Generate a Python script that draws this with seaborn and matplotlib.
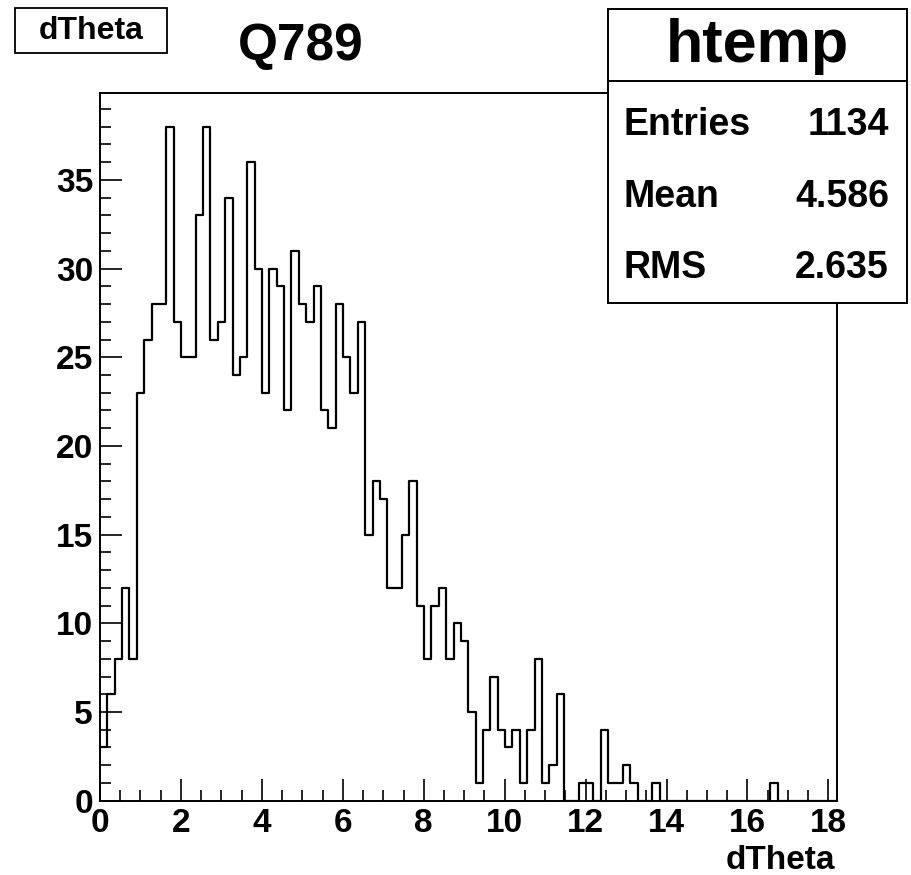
import numpy as np
import pandas as pd
import matplotlib
matplotlib.use("Agg")
import matplotlib.pyplot as plt
from matplotlib.patches import Rectangle
from matplotlib.lines import Line2D
import seaborn as sns

# ---------------- data ----------------
x_min = 0.0
x_max = 18.2
n_bins = 100
counts = [3, 6, 8, 12, 8, 23, 26, 28, 28, 38,
          27, 25, 25, 33, 38, 26, 27, 34, 24, 25,
          36, 30, 23, 30, 29, 22, 31, 28, 27, 29,
          22, 21, 28, 25, 23, 27, 15, 18, 17, 12,
          12, 15, 18, 11, 8, 11, 12, 8, 10, 9,
          5, 1, 4, 7, 4, 3, 4, 1, 4, 8,
          1, 2, 6, 0, 0, 1, 1, 0, 4, 1,
          1, 2, 1, 0, 0, 1, 0, 0, 0, 0,
          0, 0, 0, 0, 0, 0, 0, 0, 0, 0,
          0, 1, 0, 0, 0, 0, 0, 0, 0, 0]
x_ticks = [0, 2, 4, 6, 8, 10, 12, 14, 16, 18]
y_ticks = [0, 5, 10, 15, 20, 25, 30, 35]
stat_names = ["Entries", "Mean", "RMS"]
stat_values = ["1134", "4.586", "2.635"]
hist_name = "htemp"
var_name = "dTheta"
title = "Q789"

# ---------------- style ----------------
sns.set_style("ticks")
plt.rcParams["font.family"] = ["Liberation Sans", "DejaVu Sans"]
plt.rcParams["font.weight"] = "bold"
plt.rcParams["text.color"] = "black"
plt.rcParams["axes.labelcolor"] = "black"
plt.rcParams["xtick.color"] = "black"
plt.rcParams["ytick.color"] = "black"
plt.rcParams["axes.edgecolor"] = "black"

W, H = 911, 875
fig = plt.figure(figsize=(W / 100, H / 100), dpi=100)
fig.patch.set_facecolor("white")

def fx(px):
    return px / W

def fy(py):
    return 1 - py / H

ax_left, ax_right, ax_top, ax_bottom = 100, 836.5, 93, 800.7
ax = fig.add_axes([fx(ax_left), fy(ax_bottom), (ax_right - ax_left) / W, (ax_bottom - ax_top) / H])

edges = np.linspace(x_min, x_max, n_bins + 1)
centers = 0.5 * (edges[:-1] + edges[1:])
df = pd.DataFrame({"dTheta": centers, "count": counts})

sns.histplot(data=df, x="dTheta", weights="count", bins=n_bins,
             binrange=(x_min, x_max), element="step",
             fill=False, color="black", linewidth=1.6, ax=ax)

ax.set_xlim(x_min, x_max)
ax.set_ylim(0, 1.05 * max(counts))
ax.set_xlabel("")
ax.set_ylabel("")
ax.set_xticks(x_ticks)
ax.set_yticks(y_ticks)
ax.set_xticks(np.arange(0, 18.01, 0.5), minor=True)
ax.set_yticks(np.arange(0, 40, 1), minor=True)
ax.tick_params(which="major", direction="in", length=15.8, width=1.2,
               labelsize=24, pad=5, colors="black")
ax.tick_params(which="minor", direction="in", length=7.9, width=1.2, colors="black")
for lab in ax.get_xticklabels() + ax.get_yticklabels():
    lab.set_fontweight("bold")
    lab.set_color("black")
for s in ax.spines.values():
    s.set_visible(True)
    s.set_linewidth(1.4)
    s.set_color("black")

# x axis title
fig.text(fx(835), fy(869), var_name, ha="right", va="baseline",
         fontsize=24, fontweight="bold", color="black")

# plot title
fig.text(fx(238), fy(60), title, ha="left", va="baseline",
         fontsize=37, fontweight="bold", color="black")

# top-left variable box
fig.add_artist(Rectangle((fx(15), fy(53)), (167 - 15) / W, (53 - 8) / H,
                         transform=fig.transFigure, facecolor="white",
                         edgecolor="black", lw=1.3, zorder=5))
fig.text(fx(91), fy(39), var_name, ha="center", va="baseline",
         fontsize=23, fontweight="bold", color="black", zorder=6)

# stats box
bx0, by0, bx1, by1 = 608, 9, 907, 303
fig.add_artist(Rectangle((fx(bx0), fy(by1)), (bx1 - bx0) / W, (by1 - by0) / H,
                         transform=fig.transFigure, facecolor="white",
                         edgecolor="black", lw=1.4, zorder=5))
fig.add_artist(Line2D([fx(bx0), fx(bx1)], [fy(81), fy(81)],
                      transform=fig.transFigure, color="black", lw=1.4, zorder=6))
fig.text(fx(757), fy(62), hist_name, ha="center", va="baseline",
         fontsize=44, fontweight="bold", color="black", zorder=7)
row_baselines = [135, 207, 278]
for name, val, yb in zip(stat_names, stat_values, row_baselines):
    fig.text(fx(623), fy(yb), name, ha="left", va="baseline",
             fontsize=27, fontweight="bold", color="black", zorder=7)
    fig.text(fx(889), fy(yb), val, ha="right", va="baseline",
             fontsize=27, fontweight="bold", color="black", zorder=7)

fig.savefig("out.png", dpi=100)
